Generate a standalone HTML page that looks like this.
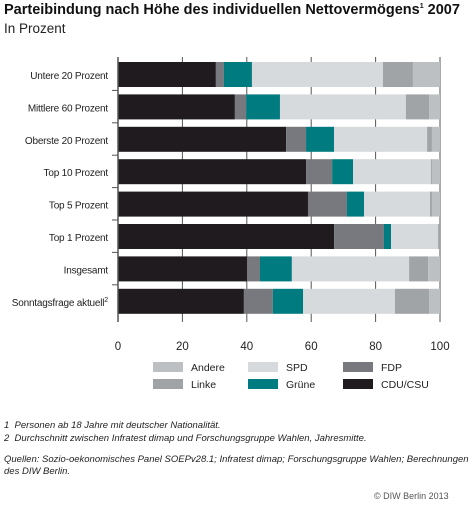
<!DOCTYPE html>
<html><head><meta charset="utf-8"><style>
body{margin:0;width:474px;height:505px;background:#fff;font-family:"Liberation Sans",sans-serif;overflow:hidden;position:relative}
.t{position:absolute;white-space:nowrap;color:#222}
</style></head><body>
<div class="t" style="left:4px;top:2px;font-size:14.5px;font-weight:bold;color:#111">Parteibindung nach Höhe des individuellen Nettovermögens<sup style="font-size:7px">1</sup> 2007</div>
<div class="t" style="left:4px;top:21px;font-size:13.5px">In Prozent</div>
<svg id="c" width="474" height="400" style="position:absolute;left:0;top:0"></svg>
<div class="t" style="left:4px;top:420px;font-size:9.5px;font-style:italic">1&nbsp; Personen ab 18 Jahre mit deutscher Nationalität.</div>
<div class="t" style="left:4px;top:433px;font-size:9.5px;font-style:italic">2&nbsp; Durchschnitt zwischen Infratest dimap und Forschungsgruppe Wahlen, Jahresmitte.</div>
<div class="t" style="left:4px;top:454px;font-size:9.5px;font-style:italic;line-height:12px;white-space:normal;width:465px">Quellen: Sozio-oekonomisches Panel SOEPv28.1; Infratest dimap; Forschungsgruppe Wahlen; Berechnungen des DIW Berlin.</div>
<div class="t" style="left:374px;top:491px;font-size:9px;color:#555">© DIW Berlin 2013</div>
<script>
const categories=["Untere 20 Prozent","Mittlere 60 Prozent","Oberste 20 Prozent","Top 10 Prozent","Top 5 Prozent","Top 1 Prozent","Insgesamt","Sonntagsfrage aktuell"];
const cdu=[30.4,36.3,52.2,58.4,59.0,67.1,40.1,39.1];
const fdp=[2.5,3.5,6.2,8.1,12.1,15.5,4.0,9.0];
const gruene=[8.7,10.5,8.7,6.5,5.3,2.2,9.9,9.4];
const spd=[40.7,39.1,28.9,24.2,20.5,14.6,36.4,28.5];
const linke=[9.3,7.2,1.5,0.3,0.6,0.6,5.9,10.6];
const andere=[8.4,3.4,2.5,2.5,2.5,0,3.7,3.4];
const ticks=[0,20,40,60,80,100];
const series=[["cdu",cdu,"#1f1b1e"],["fdp",fdp,"#77797e"],["gruene",gruene,"#007c80"],["spd",spd,"#d6dadc"],["linke",linke,"#a0a4a7"],["andere",andere,"#bcc0c2"]];
const legend=[["Andere","#bcc0c2"],["SPD","#d6dadc"],["FDP","#77797e"],["Linke","#a0a4a7"],["Grüne","#007c80"],["CDU/CSU","#1f1b1e"]];
const svg=document.getElementById('c');const NS="http://www.w3.org/2000/svg";
const x=v=>118+v*3.22;const y=i=>62+i*32.4;
function mk(t,a){const e=document.createElementNS(NS,t);for(const k in a)e.setAttribute(k,a[k]);svg.appendChild(e);return e;}
ticks.forEach(t=>{const l=mk('line',{x1:x(t),x2:x(t),y1:57,y2:322,stroke:'#555','stroke-width':1});

const tx=mk('text',{x:x(t),y:350,'font-size':11.5,'text-anchor':'middle',fill:'#222','font-family':'Liberation Sans'});tx.textContent=t;
});
categories.forEach((c,i)=>{let acc=0;
series.forEach(s=>{const v=s[1][i];const r=mk('rect',{x:x(acc),y:y(i),width:v*3.22,height:25,fill:s[2]});
acc+=v;});
const tx=mk('text',{x:108,y:y(i)+17,'font-size':10,'letter-spacing':-0.2,'text-anchor':'end',fill:'#222','font-family':'Liberation Sans'});
tx.textContent=c;if(i==7){const sp=document.createElementNS(NS,'tspan');sp.setAttribute('font-size',7);sp.setAttribute('dy',-4);sp.textContent='2';tx.appendChild(sp);}

if(i>0){const tk=mk('line',{x1:112,x2:118,y1:y(i)-4,y2:y(i)-4,stroke:'#555'});}});
const ax=mk('line',{x1:118,x2:118,y1:57,y2:322,stroke:'#555','stroke-width':1.5});
legend.forEach((l,k)=>{const col=k%3,row=Math.floor(k/3);const lx=153+col*95,ly=362+row*17;
const r=mk('rect',{x:lx,y:ly,width:30,height:10,fill:l[1]});
const tx=mk('text',{x:lx+38,y:ly+9,'font-size':10.5,fill:'#222','font-family':'Liberation Sans'});tx.textContent=l[0];
});
</script>
</body></html>
